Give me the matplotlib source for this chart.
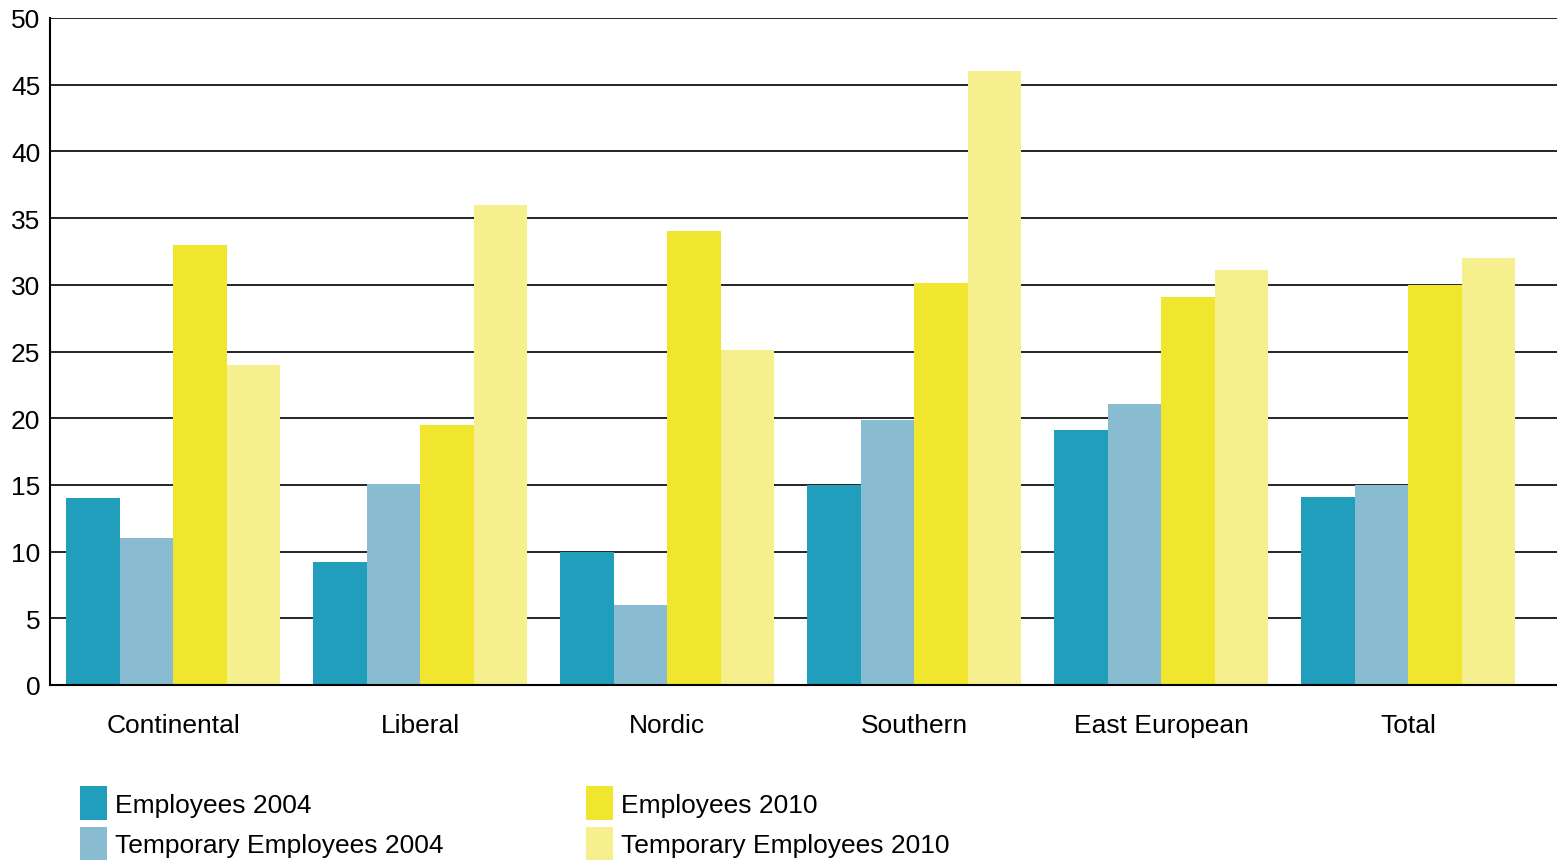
import numpy as np
import matplotlib.pyplot as plt
from matplotlib.patches import Patch

plt.rcParams['font.family'] = ['Liberation Sans', 'DejaVu Sans']

regions = ['Continental', 'Liberal', 'Nordic', 'Southern', 'East European', 'Total']
employees_2004 = [14, 9.2, 10, 15, 19.1, 14.1]
temporary_2004 = [11, 15.1, 6, 19.9, 21.1, 15]
employees_2010 = [33, 19.5, 34, 30.1, 29.1, 30]
temporary_2010 = [24, 36, 25.1, 46, 31.1, 32]

series_names = ['Employees 2004', 'Temporary Employees 2004',
                'Employees 2010', 'Temporary Employees 2010']
series_values = [employees_2004, temporary_2004, employees_2010, temporary_2010]
colors = ['#209ebb', '#8abcd1', '#f0e62e', '#f5ef8e']

fig = plt.figure(figsize=(15.57, 8.62), dpi=100)
ax = fig.add_axes([50 / 1557, 1 - 686 / 862, 1 - 50 / 1557, (686 - 19) / 862])

x = np.arange(len(regions))
w = 0.2166
for i, (vals, col) in enumerate(zip(series_values, colors)):
    ax.bar(x + (i - 1.5) * w, vals, width=w, color=col, zorder=3, linewidth=0)

ax.set_ylim(0, 50)
ax.set_xlim(-0.498, 5.603)
ax.set_yticks(range(0, 51, 5))
ax.yaxis.grid(True, color='black', linewidth=1.2, zorder=0)
ax.tick_params(axis='y', length=0, labelsize=19, pad=7)
ax.tick_params(axis='x', length=0, labelsize=19, pad=20)
ax.set_xticks(x)
ax.set_xticklabels(regions)
for s in ['top', 'right']:
    ax.spines[s].set_visible(False)
for s in ['left', 'bottom']:
    ax.spines[s].set_linewidth(1.5)
    ax.spines[s].set_zorder(4)

handles = [Patch(facecolor=c, edgecolor='none') for c in colors]
fig.legend(handles, series_names, loc='upper left',
           bbox_to_anchor=(80 / 1557, 1 - 787 / 862), ncol=2,
           frameon=False, fontsize=19, handlelength=1.02, handleheight=1.6,
           handletextpad=0.3, labelspacing=0.25, columnspacing=5.4,
           borderaxespad=0, borderpad=0)

fig.savefig('out.png', dpi=100)
